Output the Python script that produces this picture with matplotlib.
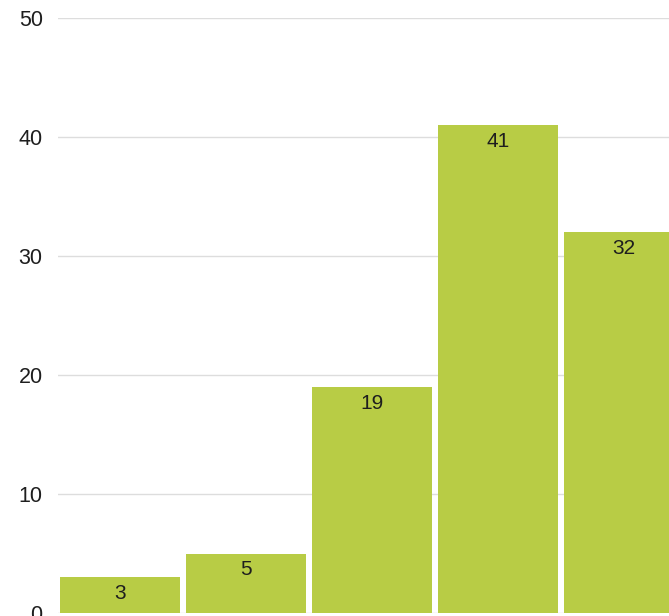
import matplotlib
matplotlib.use("Agg")
import matplotlib.pyplot as plt

plt.rcParams['font.family'] = ['Liberation Sans', 'DejaVu Sans']

# data
categories = ['1', '2', '3', '4', '5']
values = [3, 5, 19, 41, 32]
yticks = [0, 10, 20, 30, 40, 50]

fig = plt.figure(figsize=(6.69, 6.16), dpi=100)
ax = fig.add_axes([58 / 669, 3 / 616, 1 - 58 / 669, (613 - 18) / 616])

x = list(range(len(values)))
bars = ax.bar(x, values, width=0.952, color='#b8cc45', zorder=2)

for xi, v in zip(x, values):
    ax.annotate(str(v), (xi, v), xytext=(0, -5), textcoords='offset points',
                ha='center', va='top', fontsize=15, color='#1e1e1e', zorder=3)

ax.set_ylim(0, 50)
ax.set_xlim(-0.492, 4.357)
ax.set_yticks(yticks)
ax.set_yticklabels([str(t) for t in yticks], fontsize=15.5, color='#1e1e1e')
ax.set_xticks([])
ax.tick_params(axis='y', length=0, pad=11)
ax.yaxis.grid(True, color='#dddddd', linewidth=1, zorder=0)
for s in ax.spines.values():
    s.set_visible(False)

fig.savefig('out.png', dpi=100)
